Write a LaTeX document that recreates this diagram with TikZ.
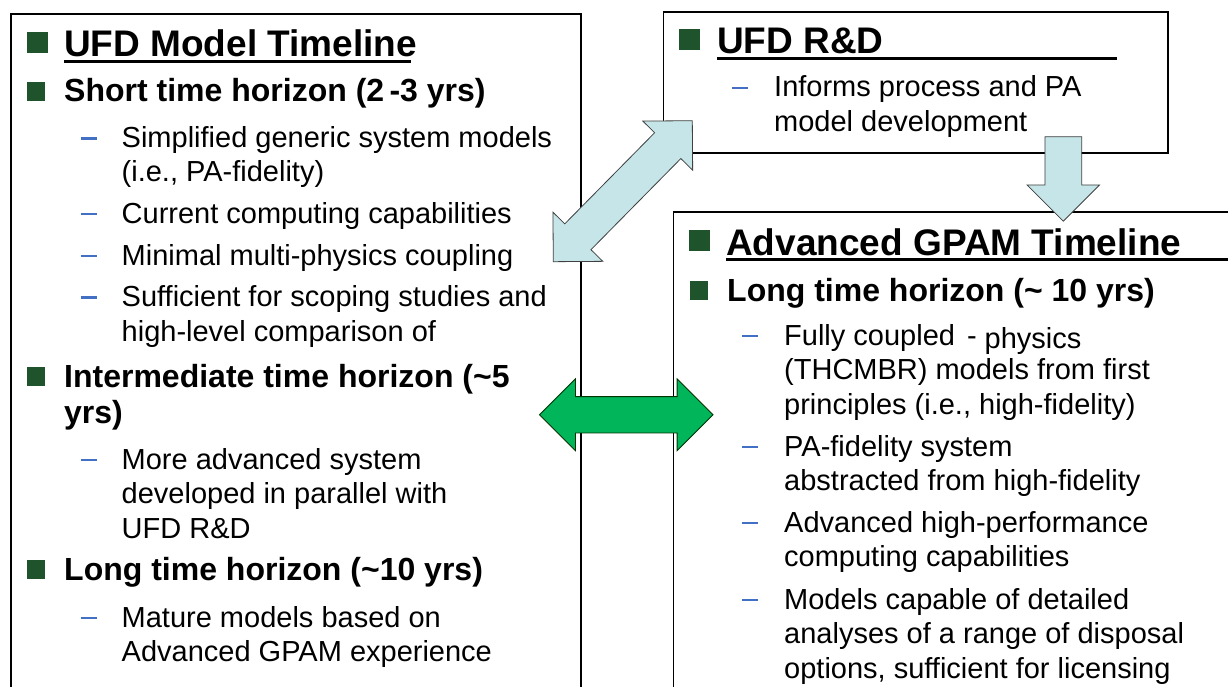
\documentclass[tikz,border=0pt]{standalone}
\usepackage{fontspec}
\setmainfont{Liberation Sans}
\usetikzlibrary{positioning}
\usetikzlibrary{shapes.arrows}
\definecolor{bulletgreen}{RGB}{31,83,43}
\definecolor{dashblue}{RGB}{66,112,196}
\definecolor{arrowblue}{RGB}{198,229,232}
\definecolor{arrowgreen}{RGB}{0,181,90}
\tikzstyle{panel} = [draw=black, line width=1.8pt, fill=white,
inner sep=0pt, anchor=north west]
\tikzstyle{titletext} = [font=\fontsize{37}{42}\selectfont\bfseries,
inner sep=0pt, anchor=base west]
% multi-line texts are placed at the baseline of their last line
\tikzstyle{headtext} = [font=\fontsize{32}{36}\selectfont\bfseries,
align=left, inner sep=0pt, anchor=base west]
\tikzstyle{subtext} = [font=\fontsize{29}{34.5}\selectfont,
align=left, inner sep=0pt, anchor=base west]
\tikzstyle{bigsq} = [fill=bulletgreen, minimum size=21pt, inner sep=0pt, anchor=south west]
\tikzstyle{smallsq} = [fill=bulletgreen, minimum size=18.5pt, inner sep=0pt, anchor=south west]
\tikzstyle{uline} = [line width=3pt]
\tikzstyle{subdash} = [draw=dashblue, line width=2.4pt]
\tikzstyle{bluearrow} = [fill=arrowblue, draw=black!75, line width=0.8pt, inner xsep=0pt, inner ysep=18pt]
\tikzstyle{greenarrow} = [fill=arrowgreen, draw=black!80!green, line width=0.8pt, inner xsep=0pt, inner ysep=17.75pt]

\begin{document}
\begin{tikzpicture}[x=1pt, y=-1pt]
    \clip (0,0) rectangle (1228,687);

    % the three panels
    \node[panel, minimum width=570, minimum height=700] (modelbox) at (10,13.5) {};
    \node[panel, minimum width=504.5, minimum height=141.3] (rdbox) at (662.5,11) {};
    \node[panel, minimum width=600, minimum height=500] (gpambox) at (672.5,211) {};

    % UFD model timeline panel
    \node[titletext] (modeltitle) at (64,57) {UFD Model Timeline};
    \node[headtext] (shorthead) at (64,102) {Short time horizon (2\,-3 yrs)};
    \node[subtext] (shortone) at (121.5,182) {Simplified generic system models\\(i.e., PA-fidelity)};
    \node[subtext] (shorttwo) at (121.5,223) {Current computing capabilities};
    \node[subtext] (shortthree) at (121.5,265) {Minimal multi-physics coupling};
    \node[subtext] (shortfour) at (121.5,341) {Sufficient for scoping studies and\\high-level comparison of};
    \node[headtext] (midhead) at (64,423) {Intermediate time horizon (\textasciitilde5\\yrs)};
    \node[subtext] (midone) at (121.5,538) {More advanced system\\developed in parallel with\\UFD R\&D};
    \node[headtext] (longhead) at (64,580) {Long time horizon (\textasciitilde10 yrs)};
    \node[subtext] (longone) at (121.5,661.5) {Mature models based on\\Advanced GPAM experience};

    % UFD R&D panel
    \node[titletext] (rdtitle) at (717,54) {UFD R\&D};
    \node[subtext] (rdone) at (774,131.5) {Informs process and PA\\model development};

    % Advanced GPAM panel
    \node[titletext] (gpamtitle) at (726,255) {Advanced GPAM Timeline};
    \node[headtext] (gpamhead) at (727,301) {Long time horizon (\textasciitilde\ 10 yrs)};
    \node[subtext] (gpamone) at (784,414) {Fully coupled\hspace{12pt}-\hspace{8pt}\raisebox{-3pt}{physics}\\(THCMBR) models from first\\principles (i.e., high-fidelity)};
    \node[subtext] (gpamtwo) at (784,490.5) {PA-fidelity system\\abstracted from high-fidelity};
    \node[subtext] (gpamthree) at (784,566.5) {Advanced high-performance\\computing capabilities};
    \node[subtext] (gpamfour) at (784,678) {Models capable of detailed\\analyses of a range of disposal\\options, sufficient for licensing};

    % underlines of the titles
    \draw[uline] ([yshift=-4.5pt]modeltitle.base west) -- ++(347,0);
    \draw[uline] ([yshift=-4.5pt]rdtitle.base west) -- ++(400,0);
    \draw[uline] ([yshift=-4.5pt]gpamtitle.base west) -- ++(510,0);

    % square bullets
    \node[bigsq] at ([xshift=-37pt, yshift=3.5pt]modeltitle.base west) {};
    \node[bigsq] at ([xshift=-38pt, yshift=3.5pt]rdtitle.base west) {};
    \node[bigsq] at ([xshift=-37pt, yshift=3.5pt]gpamtitle.base west) {};
    \node[smallsq] at ([xshift=-37.5pt, yshift=1pt]shorthead.base west) {};
    \node[smallsq] at ([xshift=-37.5pt, yshift=37pt]midhead.base west) {};
    \node[smallsq] at ([xshift=-37.5pt, yshift=1pt]longhead.base west) {};
    \node[smallsq] at ([xshift=-37.5pt, yshift=1pt]gpamhead.base west) {};

    % blue dashes, level with the first line of each item
    \draw[subdash] ([xshift=-41pt, yshift=43.5pt]shortone.base west) -- ++(16,0);
    \draw[subdash] ([xshift=-41pt, yshift=9pt]shorttwo.base west) -- ++(16,0);
    \draw[subdash] ([xshift=-41pt, yshift=9pt]shortthree.base west) -- ++(16,0);
    \draw[subdash] ([xshift=-41pt, yshift=43.5pt]shortfour.base west) -- ++(16,0);
    \draw[subdash] ([xshift=-41pt, yshift=78pt]midone.base west) -- ++(16,0);
    \draw[subdash] ([xshift=-41pt, yshift=43.5pt]longone.base west) -- ++(16,0);
    \draw[subdash] ([xshift=-42pt, yshift=43.5pt]rdone.base west) -- ++(16,0);
    \draw[subdash] ([xshift=-42pt, yshift=78pt]gpamone.base west) -- ++(16,0);
    \draw[subdash] ([xshift=-42pt, yshift=43.5pt]gpamtwo.base west) -- ++(16,0);
    \draw[subdash] ([xshift=-42pt, yshift=43.5pt]gpamthree.base west) -- ++(16,0);
    \draw[subdash] ([xshift=-42pt, yshift=78pt]gpamfour.base west) -- ++(16,0);

    % block arrows between the panels
    \node[bluearrow, double arrow, rotate=45.4, minimum height=198, minimum width=69.2,
        double arrow head extend=16.6] (rdlink) at (622.8,191.2) {};
    \node[bluearrow, single arrow, rotate=-90, anchor=tip, minimum height=84.4, minimum width=71.6,
        single arrow head extend=17.8] (rdfeed) at (1063.3,221.7) {};
    \node[greenarrow, double arrow, minimum height=173.5, minimum width=71,
        double arrow head extend=17.75] (modellink) at (626.25,414.75) {};
\end{tikzpicture}
\end{document}
